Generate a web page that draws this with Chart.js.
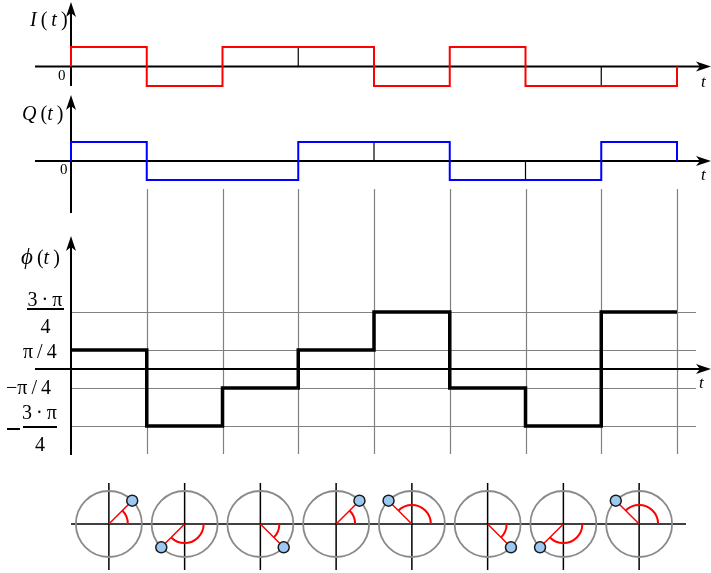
<!DOCTYPE html>
<html>
<head>
<meta charset="utf-8">
<script src="https://cdn.jsdelivr.net/npm/chart.js@4/dist/chart.umd.min.js"></script>
<style>
  html,body{margin:0;padding:0;background:#fff;}
  #wrap{position:relative;width:711px;height:573px;overflow:hidden;}
  canvas{position:absolute;left:0;top:0;}
  .lb{position:absolute;font-family:"Liberation Serif","Times New Roman",serif;color:#000;line-height:1;white-space:nowrap;}
  .it{font-style:italic;}
  .bar{position:absolute;height:2px;background:#000;}
</style>
</head>
<body>
<div id="wrap">
  <canvas id="c" width="711" height="573"></canvas>
  <!-- panel titles -->
  <div class="lb" style="left:30px;top:9px;font-size:20px;"><span class="it">I</span>&#8201;(&#8201;<span class="it">t</span>&#8201;)</div>
  <div class="lb" style="left:22px;top:103px;font-size:20px;"><span class="it">Q</span>&#8201;(<span class="it">t</span>&#8201;)</div>
  <div class="lb" style="left:21px;top:245px;font-size:20px;"><span class="it" style="font-size:23px;">&#981;</span>&#8201;(<span class="it">t</span>&#8201;)</div>
  <!-- zero labels -->
  <div class="lb" style="left:58px;top:68px;font-size:15px;">0</div>
  <div class="lb" style="left:60px;top:162px;font-size:15px;">0</div>
  <!-- t labels -->
  <div class="lb it" style="left:701px;top:73px;font-size:17px;">t</div>
  <div class="lb it" style="left:701px;top:166px;font-size:17px;">t</div>
  <div class="lb it" style="left:699px;top:374px;font-size:17px;">t</div>
  <!-- phase tick labels -->
  <div class="lb" style="left:26px;top:289px;font-size:20px;width:38px;text-align:center;">3&#8201;·&#8201;π</div>
  <div class="bar" style="left:27px;top:308px;width:37px;"></div>
  <div class="lb" style="left:27px;top:316px;font-size:20px;width:37px;text-align:center;">4</div>

  <div class="lb" style="left:23px;top:341px;font-size:20px;">π&#8201;/&#8201;4</div>
  <div class="lb" style="left:6px;top:377px;font-size:20px;">−π&#8201;/&#8201;4</div>

  <div class="bar" style="left:7px;top:428px;width:13px;height:1.5px;"></div>
  <div class="lb" style="left:21px;top:402px;font-size:20px;width:37px;text-align:center;">3&#8201;·&#8201;π</div>
  <div class="bar" style="left:23px;top:426px;width:34px;"></div>
  <div class="lb" style="left:23px;top:434px;font-size:20px;width:34px;text-align:center;">4</div>
</div>
<script>
// ---------------- data ----------------
const symbolCount = 8;
const iSymbols = [1, -1, 1, 1, -1, 1, -1, -1];
const qSymbols = [1, -1, -1, 1, 1, -1, -1, 1];
const phaseQuarterPi = [1, -3, -1, 1, 3, -1, -3, 3];       // phase in units of π/4
const phaseTickQuarterPi = [-3, -1, 1, 3];
const phaseTickLabels = ["−3·π/4", "−π/4", "π/4", "3·π/4"];
const iSameLevelTicks = [3, 7];                              // symbol boundaries marked in I(t)
const qSameLevelTicks = [4, 6];                              // symbol boundaries marked in Q(t)

// ---------------- layout (pixels) ----------------
const W = 711, H = 573;
const X0 = 71, XPPU = 75.75;            // t = 0 at x=71, one symbol = 75.75 px
const I0 = 66.5, IPPU = 19.5;
const Q0 = 161, QPPU = 19;
const P0 = 369, PPPU = 19 / (Math.PI / 4);
const C0 = 524, CPPU = XPPU;            // circle row uses same unit size as x
const CIRCLE_R = 33, ARC_R = 19;

function yScale(px0, ppu) {
  const max = px0 / ppu;
  return { type: 'linear', display: false, min: max - H / ppu, max: max, grace: 0 };
}

const phase = phaseQuarterPi.map(q => q * Math.PI / 4);

function stepPoints(vals, closeToZero) {
  const pts = [];
  if (closeToZero) pts.push({ x: 0, y: 0 });
  vals.forEach((v, k) => { pts.push({ x: k, y: v }); pts.push({ x: k + 1, y: v }); });
  if (closeToZero) pts.push({ x: vals.length, y: 0 });
  return pts;
}
function tickSegs(ts, vals) {
  const pts = [];
  ts.forEach(t => { pts.push({ x: t, y: 0 }); pts.push({ x: t, y: vals[t] }); pts.push({ x: t, y: null }); });
  return pts;
}

const rho = CIRCLE_R / CPPU;
const centers = phase.map((p, k) => ({ x: k + 0.5, y: 0 }));
const tips = phase.map((p, k) => ({ x: k + 0.5 + rho * Math.cos(p), y: rho * Math.sin(p) }));
const radii = [];
phase.forEach((p, k) => { radii.push(centers[k]); radii.push(tips[k]); radii.push({ x: k + 0.5, y: null }); });

// ---------------- decorations plugin ----------------
function arrowRight(ctx, x, y) {
  ctx.beginPath(); ctx.moveTo(x, y); ctx.lineTo(x - 15, y - 5); ctx.lineTo(x - 11, y); ctx.lineTo(x - 15, y + 5); ctx.closePath(); ctx.fill();
}
function arrowUp(ctx, x, y) {
  ctx.beginPath(); ctx.moveTo(x, y); ctx.lineTo(x - 5, y + 15); ctx.lineTo(x, y + 11); ctx.lineTo(x + 5, y + 15); ctx.closePath(); ctx.fill();
}
function line(ctx, x1, y1, x2, y2) { ctx.beginPath(); ctx.moveTo(x1, y1); ctx.lineTo(x2, y2); ctx.stroke(); }

const decor = {
  id: 'decor',
  beforeDatasetsDraw(chart) {
    const ctx = chart.ctx, s = chart.scales;
    const X = v => s.x.getPixelForValue(v);
    ctx.save();
    // phase grid
    ctx.strokeStyle = '#808080'; ctx.lineWidth = 1.2;
    phaseTickQuarterPi.forEach(q => { const y = Math.round(s.yP.getPixelForValue(q * Math.PI / 4)) + 0.5; line(ctx, X(0), y, 696, y); });
    for (let k = 1; k <= symbolCount; k++) { const x = Math.round(X(k)) + 0.5; line(ctx, x, 189, x, 454); }
    // axes
    ctx.strokeStyle = '#000'; ctx.fillStyle = '#000'; ctx.lineWidth = 2;
    const yi = s.yI.getPixelForValue(0), yq = s.yQ.getPixelForValue(0), yp = s.yP.getPixelForValue(0);
    const xa = X(0);
    [yi, yq, yp].forEach(y => { line(ctx, 35, y, 700, y); arrowRight(ctx, 711, y); });
    line(ctx, xa, 10, xa, 86); arrowUp(ctx, xa, 2);
    line(ctx, xa, 104, xa, 213); arrowUp(ctx, xa, 95);
    line(ctx, xa, 245, xa, 455); arrowUp(ctx, xa, 236);
    // circle row axes
    const yc = s.yC.getPixelForValue(0);
    ctx.lineWidth = 1.5;
    line(ctx, X(0), yc, 686, yc);
    for (let k = 0; k < symbolCount; k++) { const x = X(k + 0.5); line(ctx, x, 483, x, 570); }
    // phase arcs
    ctx.strokeStyle = '#ff0000'; ctx.lineWidth = 2;
    phase.forEach((p, k) => {
      ctx.beginPath();
      ctx.arc(X(k + 0.5), yc, ARC_R, 0, -p, p > 0);
      ctx.stroke();
    });
    ctx.restore();
  }
};

// ---------------- chart ----------------
Chart.defaults.font.family = '"Liberation Serif", serif';
new Chart(document.getElementById('c'), {
  type: 'line',
  data: {
    datasets: [
      { label: 'markers', data: tips, yAxisID: 'yC', showLine: false, pointRadius: 5.5,
        pointBackgroundColor: '#9cc8f2', pointBorderColor: '#1a1a1a', pointBorderWidth: 1.5 },
      { label: 'radius', data: radii, yAxisID: 'yC', borderColor: '#ff0000', borderWidth: 1.5, spanGaps: false },
      { label: 'circles', data: centers, yAxisID: 'yC', showLine: false, pointRadius: CIRCLE_R,
        pointBackgroundColor: 'rgba(0,0,0,0)', pointBorderColor: '#8a8a8a', pointBorderWidth: 1.8 },
      { label: 'phi', data: stepPoints(phase, false), yAxisID: 'yP', borderColor: '#000', borderWidth: 3.5 },
      { label: 'I', data: stepPoints(iSymbols, true), yAxisID: 'yI', borderColor: '#ff0000', borderWidth: 2 },
      { label: 'Q', data: stepPoints(qSymbols, true), yAxisID: 'yQ', borderColor: '#0000ff', borderWidth: 2 },
      { label: 'Iticks', data: tickSegs(iSameLevelTicks, iSymbols), yAxisID: 'yI', borderColor: '#000', borderWidth: 1.2, spanGaps: false },
      { label: 'Qticks', data: tickSegs(qSameLevelTicks, qSymbols), yAxisID: 'yQ', borderColor: '#000', borderWidth: 1.2, spanGaps: false }
    ]
  },
  options: {
    responsive: false,
    animation: false,
    events: [],
    layout: { padding: 0, autoPadding: false },
    elements: { point: { radius: 0, hoverRadius: 0 }, line: { tension: 0, borderJoinStyle: 'miter', borderCapStyle: 'butt' } },
    plugins: { legend: { display: false }, title: { display: false }, tooltip: { enabled: false } },
    scales: {
      x: { type: 'linear', display: false, min: -X0 / XPPU, max: (W - X0) / XPPU },
      yI: yScale(I0, IPPU),
      yQ: yScale(Q0, QPPU),
      yP: yScale(P0, PPPU),
      yC: yScale(C0, CPPU)
    }
  },
  plugins: [decor]
});
</script>
</body>
</html>
